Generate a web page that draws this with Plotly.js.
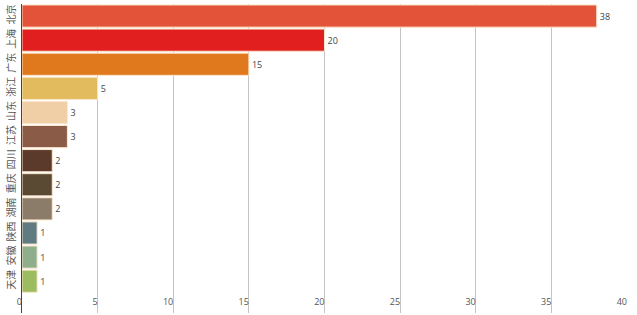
<!DOCTYPE html>
<html>
<head>
<meta charset="utf-8">
<script src="https://cdn.plot.ly/plotly-3.0.1.min.js"></script>
<style>html,body{margin:0;padding:0;background:#fff;}#chart{width:637px;height:315px;}</style>
</head>
<body>
<div id="chart"></div>
<script>
const provinces = ['北京','上海','广东','浙江','山东','江苏','四川','重庆','湖南','陕西','安徽','天津'];
const counts = [38, 20, 15, 5, 3, 3, 2, 2, 2, 1, 1, 1];
const barColors = ['#e2533a','#e11f1f','#e0791e','#e2bb5f','#f0cfa6','#8a5b46','#5b3a2b','#5a4a33','#8b7b69','#5f7a80','#8fae8c','#9bbd60'];
const xTicks = [0,5,10,15,20,25,30,35,40];

const trace = {
  type: 'bar',
  orientation: 'h',
  y: provinces,
  x: counts,
  text: counts.map(String),
  textposition: 'outside',
  cliponaxis: false,
  textfont: {family: 'Open Sans', size: 9, color: '#444'},
  outsidetextfont: {family: 'Open Sans', size: 9, color: '#444'},
  marker: {color: barColors, line: {color: '#fbe6cc', width: 1}},
  hoverinfo: 'none'
};

const layout = {
  width: 637, height: 315,
  margin: {l: 22, r: 10, t: 4, b: 2},
  paper_bgcolor: '#fff', plot_bgcolor: '#fff',
  showlegend: false,
  bargap: 0.08,
  font: {family: 'Noto Sans CJK SC', size: 10, color: '#555'},
  xaxis: {
    range: [0, 40],
    tickvals: xTicks,
    ticktext: xTicks.map(String),
    showgrid: true, gridcolor: '#c4c4c4', gridwidth: 1,
    zeroline: false, showline: false,
    ticklabelposition: 'inside left',
    ticklabeloverflow: 'allow',
    tickfont: {family: 'Open Sans', size: 9, color: '#555'},
    fixedrange: true
  },
  yaxis: {
    type: 'category',
    range: [12.32, -0.5],
    showgrid: false, zeroline: false,
    showline: true, linecolor: '#444', linewidth: 1.5,
    tickangle: -90,
    ticks: '',
    ticklabelstandoff: 2,
    tickfont: {family: 'Noto Sans CJK SC', size: 10, color: '#555'},
    fixedrange: true
  }
};

Plotly.newPlot('chart', [trace], layout, {displayModeBar: false, staticPlot: true});
</script>
</body>
</html>
